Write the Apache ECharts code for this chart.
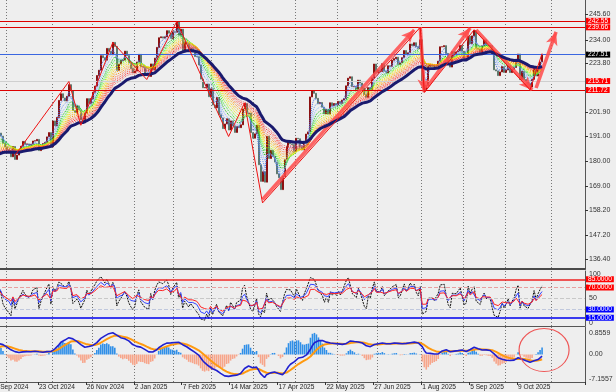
<!DOCTYPE html>
<html><head><meta charset="utf-8">
<script src="https://cdn.jsdelivr.net/npm/echarts@6/dist/echarts.min.js"></script>
<style>html,body{margin:0;padding:0;background:#eeeeee}#c{width:616px;height:392px}</style>
</head><body><div id="c"></div>
<script>
// ================= DATA (daily closes) =================
const holidays = ['2024-11-28','2024-12-25','2025-01-01','2025-01-09','2025-01-20','2025-02-17','2025-04-18','2025-05-26','2025-06-19','2025-07-04','2025-09-01'];
const firstDay = '2024-09-19';
const futureBars = 21;
// closes before the visible window (only used to warm up the indicators)
const warmupClose = [197.20,200.00,197.59,200.00,199.29,199.34,199.79,195.05,194.49,192.72,193.02,187.93,183.75,183.13,182.55,186.41,180.83,179.85,182.50,183.20,181.71,186.98,
184.07,167.90,161.02,161.93,162.77,165.80,166.94,166.80,170.23,170.10,177.59,177.06,178.22,178.88,180.11,176.13,177.04,175.50,173.12,170.80,172.12,178.50,
176.25,173.33,177.89,171.39,175.40,179.55,184.52,187.00,186.49,184.89,186.88,186.43];
const closeSep24 = [189.87,191.60,193.88,193.96,192.53,191.16,187.97,186.33];
const closeOct24 = [185.13,184.76,181.96,186.51,180.80,182.72,185.17,186.65,188.82,187.54,187.69,186.89,187.53,188.99,189.07,189.70,184.71,186.38,187.83,188.39,190.83,192.73,186.40];
const closeNov24 = [197.93,195.78,199.50,207.09,210.05,208.18,206.84,208.91,214.10,211.48,202.61,201.70,204.61,202.88,198.38,197.12,201.45,207.86,205.74,207.89];
const closeDec24 = [210.71,213.44,218.16,220.55,227.03,226.09,225.04,230.26,228.97,227.46,232.93,231.15,220.52,223.29,224.92,225.06,229.05,227.05,223.75,221.30,219.39];
const closeJan25 = [220.22,224.19,227.61,222.11,222.13,218.94,218.46,217.76,223.35,220.66,225.94,230.71,235.01,235.42,234.85,235.42,238.15,237.07,234.64,237.68];
const closeFeb25 = [237.42,242.06,236.17,238.83,229.15,233.14,232.76,228.93,230.37,228.68,226.65,226.63,222.88,216.58,212.71,212.80,214.35,208.74,212.28];
const closeMar25 = [205.02,203.80,208.36,200.70,199.25,194.54,196.59,198.89,193.89,197.95,195.74,192.82,195.54,194.95,196.21,203.26,205.71,201.13,201.36,192.72,190.26];
const closeApr25 = [192.17,196.01,178.41,171.00,175.26,170.66,191.10,181.22,184.87,182.12,179.59,174.33,172.61,167.32,173.18,180.60,186.54,188.99,187.70,187.39,184.42];
const closeMay25 = [190.20,189.98,186.35,185.01,188.71,192.08,193.06,208.64,211.37,210.25,208.00,205.59,206.16,204.07,201.12,203.10,200.99,206.02,204.72,205.70,205.01];
const closeJun25 = [206.65,205.71,207.23,207.91,213.57,216.98,217.61,213.20,213.24,212.10,216.10,214.82,212.52,209.69,208.47,212.77,211.99,217.12,223.30,219.39];
const closeJul25 = [220.46,219.92,223.41,220.09,219.36,222.54,222.26,225.02,225.69,226.35,223.19,223.88,226.13,229.30,227.47,228.29,232.23,231.44,232.79,231.01,230.19,234.11];
const closeAug25 = [214.75,211.65,213.75,222.31,223.13,222.69,221.30,221.47,224.56,230.98,231.03,231.49,228.01,223.81,221.95,228.84,227.94,228.71,229.12,231.60,229.00];
const closeSep25 = [225.34,225.99,235.68,232.33,235.84,238.24,230.33,229.95,228.15,231.43,234.05,231.62,231.23,231.48,227.63,220.71,220.21,218.15,219.78,222.17,219.57];
const closeOct25 = [220.63,222.41,219.51,220.90,221.78,225.22,227.74,216.37,220.07,216.39,215.57,214.47,213.04,216.48,222.03,217.95,221.09,224.21,227.51];

// axis tick labels
const priceTicks = [245.60,234.00,223.80,201.90,191.00,180.00,169.00,158.20,147.20,136.40];
const xTickLabels = ['19 Sep 2024','23 Oct 2024','26 Nov 2024','2 Jan 2025','7 Feb 2025','14 Mar 2025','17 Apr 2025','22 May 2025','27 Jun 2025','1 Aug 2025','5 Sep 2025','9 Oct 2025'];
const rsiTickLabels = ['100','50','0'];
const rsiTickValues = [94.5,50,5.5];      // where MT4 prints them (inset from the panel edges)
const macdTickLabels = ['0.8559','0.00','-7.1557'];
const macdTickValues = [8.2,0,-9.35];

// horizontal levels
const priceLevels = [242.55,239.66,227.51,215.71,211.72];
const rsiLevels = [85,70,50,30,15];

// zigzag swing points [date, price]
const zigzagPts = [['7 Oct 2024',182.6],['13 Nov 2024',215.5],['21 Nov 2024',196.0],['16 Dec 2024',232.9],['13 Jan 2025',216.4],['4 Feb 2025',242.2],
 ['13 Mar 2025',191.0],['25 Mar 2025',206.0],['7 Apr 2025',161.4],['31 Jul 2025',239.7],['4 Aug 2025',210.6],['9 Sep 2025',238.6],['17 Oct 2025',211.8],['27 Oct 2025',228.0]];
// hand-drawn arrows [fromDate, fromPrice, toDate, toPrice]
const arrows = [['7 Apr 2025',163.0,'28 Jul 2025',238.5],['31 Jul 2025',239.8,'4 Aug 2025',210.8],['5 Aug 2025',212.6,'5 Sep 2025',239.4],
 ['10 Sep 2025',238.5,'20 Oct 2025',211.7],['22 Oct 2025',212.6,'5 Nov 2025',237.6]];
const ellipseCenter = ['28 Oct 2025', 1.7];

// indicator settings
const ribbonPeriods = [3,5,7,9,11,13,15,17,19,21,23,25,27,29];
const slowPeriod = 34;
const rsiPeriods = [5,9,14];

// ================= BUILD =================
const MON = ['Jan','Feb','Mar','Apr','May','Jun','Jul','Aug','Sep','Oct','Nov','Dec'];
const closes = [].concat(closeSep24,closeOct24,closeNov24,closeDec24,closeJan25,closeFeb25,closeMar25,closeApr25,closeMay25,closeJun25,closeJul25,closeAug25,closeSep25,closeOct25);
const cats = [], monthStart = new Set();
{
  const hs = new Set(holidays);
  const d = new Date(firstDay + 'T12:00:00Z');
  let prevM = -1;
  while (cats.length < closes.length + futureBars) {
    const wd = d.getUTCDay();
    const iso = d.toISOString().slice(0,10);
    if (wd !== 0 && wd !== 6 && !hs.has(iso)) {
      if (prevM !== -1 && d.getUTCMonth() !== prevM) monthStart.add(cats.length);
      prevM = d.getUTCMonth();
      cats.push(d.getUTCDate() + ' ' + MON[d.getUTCMonth()] + ' ' + d.getUTCFullYear());
    }
    d.setUTCDate(d.getUTCDate() + 1);
  }
}
const idx = n => cats.indexOf(n);
const all = warmupClose.concat(closes);
const W = warmupClose.length;
function ema(src, n){ const k = 2/(n+1); const out=[]; let e = src[0]; for (let i=0;i<src.length;i++){ if(i>0) e = e + k*(src[i]-e); out.push(e);} return out; }
function rsi(src, n){ const out=[50]; let ag=0, al=0; for (let i=1;i<src.length;i++){ const dd=src[i]-src[i-1]; const g=Math.max(dd,0), l=Math.max(-dd,0);
  if (i<=n){ ag+=g/n; al+=l/n; } else { ag=(ag*(n-1)+g)/n; al=(al*(n-1)+l)/n; } out.push(al===0?100:100-100/(1+ag/al)); } return out; }
const vis = a => a.slice(W).map(v => +v.toFixed(3));
const candles = closes.map((c,i) => { const o = all[W+i-1]; return [o, c, Math.min(o,c), Math.max(o,c)]; });
const e12 = ema(all,12), e26 = ema(all,26);
const macdLine = e12.map((v,i)=> v - e26[i]);
const sigLine = ema(macdLine, 9);
const hist = macdLine.map((v,i)=> v - sigLine[i]);

const ribbonColors = ['#3f6fe0','#6a95f0','#86b4f8','#11bb11','#33ee33','#99ff00','#eeee00','#ffd000','#ffaa00','#ff8800','#ff6a30','#ff4a3a','#ff2020','#f06060'];
const levelStyle = [
  {line:'#dd0000', box:'#ff0000'},{line:'#dd0000', box:'#ff0000'},{line:'#3a66e0', box:'#000000'},{line:'#cfcfcf', box:'#ff0000'},{line:'#dd0000', box:'#ff0000'}];
const rsiLevelStyle = [
  {line:'#ee2222', type:'solid', box:'#ff0000'},{line:'#e8a0a0', type:'dashed', box:'#ff0000'},{line:'#c8c8c8', type:'dashed', box:null},
  {line:'#c0c8dd', type:'dashed', box:'#0000ff'},{line:'#0000ee', type:'solid', box:'#0000ff'}];

const FONT = 'Liberation Sans';
const gridL = -10, gridR = 31;
const grids = [{left:gridL,right:gridR,top:0,height:269},{left:gridL,right:gridR,top:271,height:55},{left:gridL,right:gridR,top:327,height:55}]
  .map(g => Object.assign(g, {outerBoundsMode:'none', containLabel:false}));
const sepLine = {show:true, interval:(i)=>monthStart.has(i), lineStyle:{type:[1,2], color:'#777', width:1}};
const xTickSet = new Set(xTickLabels);
const xAxes = [0,1,2].map(g => ({
  type:'category', gridIndex:g, data:cats, boundaryGap:true,
  axisLine:{show:true, onZero:false, lineStyle:{color: g===0 ? '#4a4a4a' : '#555', width: g===0 ? 2 : 1}},
  axisTick:{show:g===2, interval:(i,v)=>xTickSet.has(v), length:3, lineStyle:{color:'#333'}},
  axisLabel:{show:g===2, interval:(i,v)=>xTickSet.has(v), align:'left', fontSize:6.6, color:'#222', fontFamily:FONT, margin:2, hideOverlap:false},
  splitLine:sepLine
}));
const yBase = {position:'right', axisLine:{show:true, lineStyle:{color:'#555'}}, splitLine:{show:false}};
const yAxes = [
  Object.assign({}, yBase, {type:'value', gridIndex:0, min:131.94, max:251.84,
    axisTick:{show:true, length:3, customValues:priceTicks, lineStyle:{color:'#333'}},
    axisLabel:{customValues:priceTicks, formatter:v=>v.toFixed(2), fontSize:7, color:'#333', fontFamily:FONT, margin:4}}),
  Object.assign({}, yBase, {type:'value', gridIndex:1, min:0, max:100,
    axisTick:{show:false},
    axisLabel:{customValues:rsiTickValues, formatter:v=>rsiTickLabels[rsiTickValues.indexOf(v)], fontSize:7, color:'#333', fontFamily:FONT, margin:4}}),
  Object.assign({}, yBase, {type:'value', gridIndex:2, min:-10.5, max:10.5,
    axisTick:{show:false},
    axisLabel:{customValues:macdTickValues, formatter:v=>macdTickLabels[macdTickValues.indexOf(v)],
      fontSize:7, color:'#333', fontFamily:FONT, margin:4}}),
  {type:'value', gridIndex:2, min:-4.5, max:4.5, show:false, splitLine:{show:false}}
];

const boxLabel = (txt, bg) => ({show:true, position:'end', formatter:txt, backgroundColor:bg, color:'#fff', fontSize:6.6, fontFamily:FONT, padding:[0,2,0,2], distance:1, lineHeight:6});

const series = [];
series.push({type:'candlestick', name:'price', xAxisIndex:0, yAxisIndex:0, data:candles, barWidth:'75%', z:3,
  itemStyle:{color:'#951818', color0:'#718b7e', borderColor:'#8b1010', borderColor0:'#607a6e', borderWidth:1},
  markLine:{symbol:['none','none'], silent:true, animation:false,
    data: priceLevels.map((v,i)=>({yAxis:v, lineStyle:{color:levelStyle[i].line, width:1, type:'solid'}, label:boxLabel(v.toFixed(2), levelStyle[i].box)}))}
});
ribbonPeriods.forEach((p,k)=>{
  series.push({type:'line', xAxisIndex:0, yAxisIndex:0, data:vis(ema(all,p)), showSymbol:false, silent:true, z:4,
    lineStyle:{width:1, type:[1,1], color:ribbonColors[k]}});
});
series.push({type:'line', xAxisIndex:0, yAxisIndex:0, data:vis(ema(all,slowPeriod)), showSymbol:false, silent:true, z:5,
  lineStyle:{width:3, color:'#1a1a6e'}});
series.push({type:'line', xAxisIndex:0, yAxisIndex:0, data:zigzagPts.map(p=>[idx(p[0]), p[1]]), showSymbol:false, silent:true, z:6,
  lineStyle:{width:1, color:'#ee1111'}});
series.push({type:'line', xAxisIndex:0, yAxisIndex:0, data:[], silent:true, z:7,
  markLine:{symbol:['none','arrow'], symbolSize:[9,13], silent:true, animation:false, label:{show:false},
    lineStyle:{color:'#ff4a4a', width:3.5, type:'solid', opacity:0.85},
    data: arrows.map(a=>[{coord:[idx(a[0]), a[1]]},{coord:[idx(a[2]), a[3]]}])}});
// RSI panel
const rsiColors = ['#111111','#3344ff','#ff2222'];
rsiPeriods.forEach((p,k)=>{
  series.push({type:'line', xAxisIndex:1, yAxisIndex:1, data:vis(rsi(all,p)), showSymbol:false, silent:true, z:4,
    lineStyle:{width:1, color:rsiColors[k], type: k===0 ? [2,1] : 'solid'},
    markLine: k===0 ? {symbol:['none','none'], silent:true, animation:false,
      data: rsiLevels.map((v,i)=>({yAxis:v, lineStyle:{color:rsiLevelStyle[i].line, width: (i===0||i===4)?1.5:1, type:rsiLevelStyle[i].type},
        label: rsiLevelStyle[i].box ? boxLabel(v.toFixed(4), rsiLevelStyle[i].box) : {show:false}}))} : undefined});
});
// MACD panel
series.push({type:'bar', xAxisIndex:2, yAxisIndex:3, data:vis(hist).map(v=>({value:v, itemStyle:{color: v>=0 ? '#2f8fe8' : '#f7a58a'}})), barWidth:'80%', silent:true, z:2});
series.push({type:'line', xAxisIndex:2, yAxisIndex:2, data:vis(sigLine), showSymbol:false, silent:true, z:4, lineStyle:{width:2, color:'#ff9a10'}});
series.push({type:'line', xAxisIndex:2, yAxisIndex:2, data:vis(macdLine), showSymbol:false, silent:true, z:5, lineStyle:{width:1.6, color:'#2020d0'}});

const chart = echarts.init(document.getElementById('c'), null, {renderer:'canvas'});
chart.setOption({animation:false, backgroundColor:'#eeeeee', grid:grids, xAxis:xAxes, yAxis:yAxes, series:series});
const ec = chart.convertToPixel({xAxisIndex:2, yAxisIndex:2}, [idx(ellipseCenter[0]), ellipseCenter[1]]);
chart.setOption({graphic:[{type:'circle', silent:true, x:ec[0], y:ec[1], scaleX:25/21.5, shape:{cx:0, cy:0, r:21.5},
  style:{fill:'none', stroke:'#ee5555', lineWidth:1, strokeNoScale:true}, z:100}]});
</script></body></html>
